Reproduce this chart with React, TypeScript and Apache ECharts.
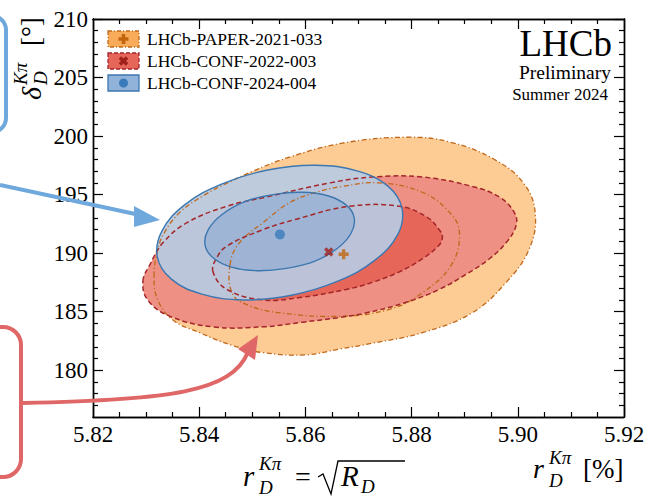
import React, { useEffect, useRef } from "react";
import * as echarts from "echarts";

type Pt = [number, number];

// ---- axes ----
const xMajorTicks = [5.82, 5.84, 5.86, 5.88, 5.9, 5.92];
const xMinorTicks = [5.825, 5.83, 5.835, 5.845, 5.85, 5.855, 5.865, 5.87, 5.875, 5.885, 5.89, 5.895, 5.905, 5.91, 5.915];
const yMajorTicks = [180, 185, 190, 195, 200, 205, 210];
const yMinorTicks = [177, 178, 179, 181, 182, 183, 184, 186, 187, 188, 189, 191, 192, 193, 194, 196, 197, 198, 199, 201, 202, 203, 204, 206, 207, 208, 209];

const legendLabels = ["LHCb-PAPER-2021-033", "LHCb-CONF-2022-003", "LHCb-CONF-2024-004"];

// ---- best-fit points ----
const paper2021Best: Pt = [5.8672, 189.9];
const conf2022Best: Pt = [5.8644, 190.1];
const conf2024Best: Pt = [5.8552, 191.6];

// ---- contours ----
const paper2021Outer: Pt[] = [
  [5.8315, 188.0], [5.8322, 190.3], [5.8335, 191.8], [5.8364, 193.5], [5.8411, 195.0], [5.8458, 196.1],
  [5.8501, 197.0], [5.857, 198.2], [5.867, 199.4], [5.879, 199.9], [5.8871, 199.5], [5.8956, 198.0],
  [5.9012, 195.9], [5.9033, 193.3], [5.9021, 190.3], [5.8978, 187.5], [5.8914, 184.9], [5.882, 183.2],
  [5.8726, 182.3], [5.8664, 181.8], [5.8599, 181.3], [5.852, 181.5], [5.8463, 182.1], [5.8401, 183.2],
  [5.835, 184.3], [5.8322, 186.0],
];
const paper2021Inner: Pt[] = [
  [5.8458, 189.0], [5.8476, 190.9], [5.852, 192.6], [5.857, 194.3], [5.8621, 195.2], [5.867, 195.7],
  [5.8739, 196.0], [5.882, 195.2], [5.8871, 193.5], [5.889, 191.8], [5.8875, 189.0], [5.882, 186.6],
  [5.8758, 185.2], [5.8664, 184.6], [5.8552, 184.9], [5.8495, 185.5], [5.8463, 186.5],
];
const conf2022Outer: Pt[] = [
  [5.8294, 187.6], [5.8307, 189.0], [5.8332, 190.9], [5.8377, 192.6], [5.8452, 194.0], [5.8527, 194.8],
  [5.8646, 196.0], [5.8726, 196.5], [5.882, 196.5], [5.8914, 195.7], [5.8965, 194.8], [5.8993, 193.5],
  [5.8997, 192.4], [5.8978, 190.9], [5.8946, 189.5], [5.8903, 188.2], [5.8852, 186.9], [5.879, 185.8],
  [5.8715, 184.9], [5.8664, 184.5], [5.8595, 184.1], [5.852, 183.7], [5.8426, 183.7], [5.8345, 184.6],
  [5.8303, 186.0],
];
const conf2022Inner: Pt[] = [
  [5.8426, 188.4], [5.8433, 189.6], [5.8452, 190.6], [5.852, 192.0], [5.8583, 192.9], [5.8683, 194.0],
  [5.8777, 194.0], [5.8828, 193.1], [5.8852, 192.0], [5.8858, 191.4], [5.8852, 190.7], [5.882, 189.5],
  [5.8777, 188.4], [5.8726, 187.5], [5.8677, 186.9], [5.8589, 186.2], [5.852, 186.0], [5.8452, 186.9],
];
const conf2024Outer: Pt[] = [
  [5.8782, 193.8], [5.8774, 191.6], [5.8731, 189.4], [5.8661, 187.6], [5.8574, 186.4], [5.8484, 186.0],
  [5.8405, 186.5], [5.8347, 187.8], [5.8321, 189.7], [5.833, 191.9], [5.8372, 194.1], [5.8442, 195.9],
  [5.8529, 197.1], [5.8619, 197.5], [5.8699, 197.0], [5.8756, 195.7],
];
const conf2024Inner: Pt[] = [
  [5.8692, 193.0], [5.8686, 191.7], [5.866, 190.4], [5.8617, 189.3], [5.8564, 188.7], [5.8509, 188.5],
  [5.8461, 188.8], [5.8426, 189.6], [5.8411, 190.7], [5.8417, 192.0], [5.8443, 193.3], [5.8486, 194.4],
  [5.8539, 195.0], [5.8594, 195.2], [5.8642, 194.9], [5.8677, 194.1],
];

const FONT = "Liberation Serif";
const ORANGE_LINE = "#C0681A";
const RED_LINE = "#A3262A";
const BLUE_LINE = "#3C77B0";
const DASHDOT = [5, 2.5, 1.2, 2.5];
const DASH = [5, 3];

const contours = [
  { pts: paper2021Outer, fill: "#FDCB94", stroke: ORANGE_LINE, dash: DASHDOT, w: 1.3 },
  { pts: paper2021Inner, fill: "#FDCB94", stroke: ORANGE_LINE, dash: DASHDOT, w: 1.3 },
  { pts: conf2022Outer, fill: "#EE9083", stroke: RED_LINE, dash: DASH, w: 1.5 },
  { pts: conf2022Inner, fill: "#E6675A", stroke: RED_LINE, dash: DASH, w: 1.5 },
  { pts: conf2024Outer, fill: "rgba(184,202,226,0.93)", stroke: BLUE_LINE, dash: null, w: 1.4 },
  { pts: conf2024Inner, fill: "rgba(140,170,210,0.6)", stroke: BLUE_LINE, dash: null, w: 1.4 },
];

const PLUS_PATH = "path://M4,0H8V4H12V8H8V12H4V8H0V4H4Z";

function plusPts(a: number, b: number): number[][] {
  return [[-b, -a], [b, -a], [b, -b], [a, -b], [a, b], [b, b], [b, a], [-b, a], [-b, b], [-a, b], [-a, -b], [-b, -b]];
}

function txt(text: string, x: number, baseline: number, fs: number, italic = false, align = "left", lh?: number) {
  return {
    type: "text",
    x,
    y: baseline - 0.32 * fs,
    z: 100,
    silent: true,
    style: {
      text,
      fontSize: fs,
      fontFamily: FONT,
      fontStyle: italic ? "italic" : "normal",
      fill: "#000",
      align,
      verticalAlign: "middle",
      lineHeight: lh || fs,
    },
  };
}

function xAxisCfg(position: string, ticks: number[], len: number, labels: boolean) {
  return {
    type: "value",
    min: 5.82,
    max: 5.92,
    position,
    axisLine: { show: true, onZero: false, lineStyle: { color: "#000", width: 1.4 } },
    axisTick: { show: true, inside: true, length: len, customValues: ticks, lineStyle: { color: "#000", width: 1.2 } },
    axisLabel: labels
      ? { show: true, customValues: xMajorTicks, formatter: (v: number) => v.toFixed(2), fontFamily: FONT, fontSize: 23, color: "#000", margin: 6 }
      : { show: false },
    splitLine: { show: false },
  };
}
function yAxisCfg(position: string, ticks: number[], len: number, labels: boolean) {
  return {
    type: "value",
    min: 176,
    max: 210,
    position,
    axisLine: { show: true, onZero: false, lineStyle: { color: "#000", width: 1.4 } },
    axisTick: { show: true, inside: true, length: len, customValues: ticks, lineStyle: { color: "#000", width: 1.2 } },
    axisLabel: labels
      ? { show: true, customValues: yMajorTicks, formatter: (v: number) => String(Math.round(v)), fontFamily: FONT, fontSize: 23, color: "#000", margin: 5 }
      : { show: false },
    splitLine: { show: false },
  };
}

export default function App() {
  const ref = useRef<HTMLDivElement>(null);
  useEffect(() => {
    if (!ref.current) return;
    const chart = echarts.init(ref.current, null, { renderer: "svg" });
    const BLUE_ANN = "#6FA8DC";
    const RED_ANN = "#E06767";
    const option: any = {
      animation: false,
      backgroundColor: "#fff",
      textStyle: { fontFamily: FONT },
      grid: { left: 93, right: 23, top: 19, bottom: 82, containLabel: false, outerBoundsMode: "none" },
      xAxis: [
        xAxisCfg("bottom", xMajorTicks, 10, true),
        xAxisCfg("bottom", xMinorTicks, 5, false),
        xAxisCfg("top", xMajorTicks, 10, false),
        xAxisCfg("top", xMinorTicks, 5, false),
      ],
      yAxis: [
        yAxisCfg("left", yMajorTicks, 10, true),
        yAxisCfg("left", yMinorTicks, 5, false),
        yAxisCfg("right", yMajorTicks, 10, false),
        yAxisCfg("right", yMinorTicks, 5, false),
      ],
      series: [
        {
          type: "custom",
          coordinateSystem: "cartesian2d",
          xAxisIndex: 0,
          yAxisIndex: 0,
          silent: true,
          z: 2,
          data: contours.map((c, i) => [c.pts[0][0], c.pts[0][1], i]),
          encode: { x: 0, y: 1 },
          renderItem: (params: any, api: any) => {
            const c = contours[params.dataIndex];
            return {
              type: "polygon",
              shape: { points: c.pts.map((p) => api.coord(p)), smooth: 0.4 },
              style: { fill: c.fill, stroke: "none" },
            };
          },
        },
        {
          type: "custom",
          coordinateSystem: "cartesian2d",
          xAxisIndex: 0,
          yAxisIndex: 0,
          silent: true,
          z: 3,
          data: contours.map((c, i) => [c.pts[0][0], c.pts[0][1], i]),
          encode: { x: 0, y: 1 },
          renderItem: (params: any, api: any) => {
            const c = contours[params.dataIndex];
            return {
              type: "polygon",
              shape: { points: c.pts.map((p) => api.coord(p)), smooth: 0.4 },
              style: { fill: "none", stroke: c.stroke, lineWidth: c.w, lineDash: c.dash || undefined },
            };
          },
        },
        {
          type: "scatter",
          z: 5,
          data: [paper2021Best],
          symbol: PLUS_PATH,
          symbolSize: 10,
          itemStyle: { color: "#C1650F" },
        },
        {
          type: "scatter",
          z: 5,
          data: [conf2022Best],
          symbol: PLUS_PATH,
          symbolRotate: 45,
          symbolSize: 10,
          itemStyle: { color: "#A0201C" },
        },
        {
          type: "scatter",
          z: 5,
          data: [conf2024Best],
          symbol: "circle",
          symbolSize: 10,
          itemStyle: { color: "#3A7BBB" },
        },
      ],
      graphic: [
        // legend
        { type: "rect", z: 100, shape: { x: 108, y: 31, width: 31, height: 16 }, style: { fill: "#F8AC5A", stroke: ORANGE_LINE, lineWidth: 1.3, lineDash: [4, 2, 1, 2] } },
        { type: "polygon", z: 101, x: 123.5, y: 39, shape: { points: plusPts(5, 1.8) }, style: { fill: "#C1650F" } },
        { type: "rect", z: 100, shape: { x: 108, y: 53, width: 31, height: 16 }, style: { fill: "#E6675A", stroke: RED_LINE, lineWidth: 1.3, lineDash: [4, 2] } },
        { type: "polygon", z: 101, x: 123.5, y: 61, rotation: Math.PI / 4, shape: { points: plusPts(5, 1.8) }, style: { fill: "#A0201C" } },
        { type: "rect", z: 100, shape: { x: 108, y: 75, width: 31, height: 16 }, style: { fill: "#91B3D9", stroke: BLUE_LINE, lineWidth: 1.3 } },
        { type: "circle", z: 101, shape: { cx: 123.5, cy: 83, r: 4.5 }, style: { fill: "#3A7BBB" } },
        txt(legendLabels[0], 147, 45, 17.5),
        txt(legendLabels[1], 147, 67, 17.5),
        txt(legendLabels[2], 147, 89, 17.5),
        // LHCb label
        txt("LHCb", 612, 55, 37, false, "right", 30),
        txt("Preliminary", 611, 79, 19.5, false, "right", 17),
        txt("Summer 2024", 608, 100, 17, false, "right", 15),
        // y axis title (rotated)
        {
          type: "group",
          x: 40,
          y: 100,
          rotation: Math.PI / 2,
          children: [
            txt("δ", 0, 0, 28, true),
            txt("Kπ", 15, -13, 19, true),
            txt("D", 15, 7, 19, true),
            txt("[°]", 54, 0, 27),
          ],
        },
        // bottom formula
        txt("r", 243, 485, 29, true),
        txt("Kπ", 259, 470, 19, true),
        txt("D", 259, 494, 19, true),
        txt("=", 295, 485, 28),
        { type: "polyline", z: 100, shape: { points: [[318, 477], [323, 474], [331, 494], [338, 461], [405, 461]] }, style: { stroke: "#000", lineWidth: 1.3, fill: "none" } },
        txt("R", 341, 485, 29, true),
        txt("D", 361, 493, 19, true),
        // right formula
        txt("r", 533, 477, 28, true),
        txt("Kπ", 549, 464, 19, true),
        txt("D", 549, 487, 19, true),
        txt("[%]", 583, 478, 27),
        // annotations
        { type: "rect", z: 100, shape: { x: -30, y: 16, width: 36, height: 116, r: 14 }, style: { fill: "none", stroke: BLUE_ANN, lineWidth: 4 } },
        { type: "line", z: 100, shape: { x1: 0, y1: 185, x2: 140, y2: 215 }, style: { stroke: BLUE_ANN, lineWidth: 4 } },
        { type: "polygon", z: 100, shape: { points: [[134, 206], [160, 220], [134, 227]] }, style: { fill: BLUE_ANN } },
        { type: "rect", z: 100, shape: { x: -30, y: 327, width: 51, height: 150, r: 18 }, style: { fill: "none", stroke: RED_ANN, lineWidth: 4 } },
        { type: "bezierCurve", z: 100, shape: { x1: 23, y1: 403, cpx1: 170, cpy1: 400, cpx2: 232, cpy2: 392, x2: 248, y2: 352 }, style: { stroke: RED_ANN, lineWidth: 4, fill: "none" } },
        { type: "polygon", z: 100, shape: { points: [[258, 335], [238, 349], [255, 360]] }, style: { fill: RED_ANN } },
      ],
    };
    chart.setOption(option);
    return () => chart.dispose();
  }, []);
  return <div ref={ref} style={{ position: "fixed", left: 0, top: 0, width: 647, height: 499 }} />;
}
